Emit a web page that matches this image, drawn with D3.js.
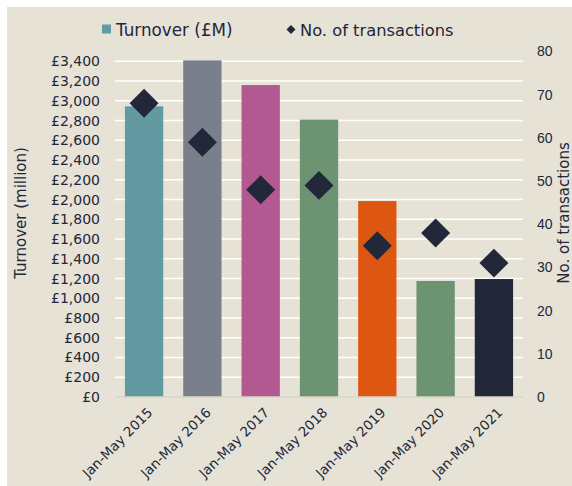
<!DOCTYPE html>
<html>
<head>
<meta charset="utf-8">
<script src="https://cdn.jsdelivr.net/npm/d3@7"></script>
<style>
  html, body { margin: 0; padding: 0; background: #fff; }
  svg { display: block; }
</style>
</head>
<body>
<div id="grafico"></div>
<script>
// Datos
const periodos = ["Jan-May 2015", "Jan-May 2016", "Jan-May 2017", "Jan-May 2018", "Jan-May 2019", "Jan-May 2020", "Jan-May 2021"];
const turnover = [2945, 3410, 3160, 2810, 1985, 1175, 1195];
const transacciones = [68, 59, 48, 49, 35, 38, 31];
const coloresBarras = ["#6399a1", "#7a808b", "#b35992", "#6c9372", "#dd5713", "#6c9372", "#23273a"];
const ticksIzq = d3.range(0, 3401, 200);
const ticksDer = d3.range(0, 81, 10);

const width = 572;
const height = 486;
const m = { top: 51.5, right: 49, bottom: 89, left: 115 };
const texto = "#23273a";
const fuente = "'DejaVu Sans', sans-serif";

const svg = d3.select('#grafico')
    .append('svg')
    .attr('width', width)
    .attr('height', height);

// fondo beige con borde blanco arriba/izquierda
svg.append('rect')
    .attr('x', 7).attr('y', 7)
    .attr('width', width - 7).attr('height', height - 7)
    .attr('fill', '#e6e2d6');

// Escala x (bandas)
const xScale = d3.scaleBand()
    .domain(periodos)
    .range([m.left, width - m.right])
    .paddingInner(0.343)
    .paddingOuter(0.17);

// Escalas y
const yLeft = d3.scaleLinear()
    .domain([0, 3500])
    .range([height - m.bottom, m.top]);

const yRight = d3.scaleLinear()
    .domain([0, 80])
    .range([height - m.bottom, m.top]);

// Líneas de cuadrícula
svg.append('g')
    .selectAll('line')
    .data(ticksIzq.filter(d => d > 0))
    .enter()
    .append('line')
    .attr('x1', m.left)
    .attr('x2', width - m.right)
    .attr('y1', d => yLeft(d))
    .attr('y2', d => yLeft(d))
    .attr('stroke', '#ffffff')
    .attr('stroke-width', 1.5);

// Barras
svg.selectAll('rect.bar')
    .data(turnover)
    .enter()
    .append('rect')
    .attr('class', 'bar')
    .attr('x', (d, i) => xScale(periodos[i]))
    .attr('y', d => yLeft(d))
    .attr('width', xScale.bandwidth())
    .attr('height', d => yLeft(0) - yLeft(d))
    .attr('fill', (d, i) => coloresBarras[i]);

// Línea base
svg.append('line')
    .attr('x1', m.left)
    .attr('x2', width - m.right)
    .attr('y1', yLeft(0))
    .attr('y2', yLeft(0))
    .attr('stroke', '#d9d6cc')
    .attr('stroke-width', 1.5);

// Diamantes
const diamante = d3.symbol().type(d3.symbolSquare).size(420);
svg.selectAll('path.pt')
    .data(transacciones)
    .enter()
    .append('path')
    .attr('class', 'pt')
    .attr('d', diamante)
    .attr('transform', (d, i) => `translate(${xScale(periodos[i]) + xScale.bandwidth() / 2}, ${yRight(d)}) rotate(45)`)
    .attr('fill', texto);

// Eje izquierdo
const yAxisLeft = d3.axisLeft(yLeft)
    .tickValues(ticksIzq)
    .tickSize(0)
    .tickPadding(15)
    .tickFormat(d => '£' + d3.format(',')(d));

svg.append('g')
    .attr('transform', `translate(${m.left}, 0)`)
    .call(yAxisLeft)
    .call(g => g.select('.domain').remove())
    .selectAll('text')
    .attr('fill', texto)
    .style('font-family', fuente)
    .style('font-size', '14px');

// Eje derecho
const yAxisRight = d3.axisRight(yRight)
    .tickValues(ticksDer)
    .tickSize(0)
    .tickPadding(14);

svg.append('g')
    .attr('transform', `translate(${width - m.right}, 0)`)
    .call(yAxisRight)
    .call(g => g.select('.domain').remove())
    .selectAll('text')
    .attr('fill', texto)
    .style('font-family', "'Liberation Sans', Arial, sans-serif")
    .style('font-size', '14px');

// Eje x
const xAxis = d3.axisBottom(xScale).tickSize(0).tickPadding(0);
svg.append('g')
    .attr('transform', `translate(0, ${height - m.bottom})`)
    .call(xAxis)
    .call(g => g.select('.domain').remove())
    .selectAll('text')
    .attr('fill', texto)
    .style('font-family', fuente)
    .style('font-size', '13.5px')
    .attr('text-anchor', 'end')
    .attr('transform', 'translate(6, 13) rotate(-45)')
    .attr('dy', '0.35em');

// Títulos de ejes
const centroY = 213;
svg.append('text')
    .attr('transform', `translate(26, ${centroY}) rotate(-90)`)
    .attr('text-anchor', 'middle')
    .attr('fill', texto)
    .style('font-family', fuente)
    .style('font-size', '15px')
    .text('Turnover (million)');

svg.append('text')
    .attr('transform', `translate(569, ${centroY}) rotate(-90)`)
    .attr('text-anchor', 'middle')
    .attr('fill', texto)
    .style('font-family', fuente)
    .style('font-size', '15px')
    .text('No. of transactions');

// Leyenda
const leyenda = svg.append('g');
leyenda.append('rect')
    .attr('x', 102).attr('y', 24.5)
    .attr('width', 9).attr('height', 9)
    .attr('fill', coloresBarras[0]);
leyenda.append('text')
    .attr('x', 116).attr('y', 35.5)
    .attr('fill', texto)
    .style('font-family', fuente)
    .style('font-size', '16.8px')
    .text('Turnover (£M)');
leyenda.append('path')
    .attr('d', d3.symbol().type(d3.symbolSquare).size(40))
    .attr('transform', 'translate(291, 29.5) rotate(45)')
    .attr('fill', texto);
leyenda.append('text')
    .attr('x', 300).attr('y', 35.5)
    .attr('fill', texto)
    .style('font-family', fuente)
    .style('font-size', '16.3px')
    .text('No. of transactions');
</script>
</body>
</html>
